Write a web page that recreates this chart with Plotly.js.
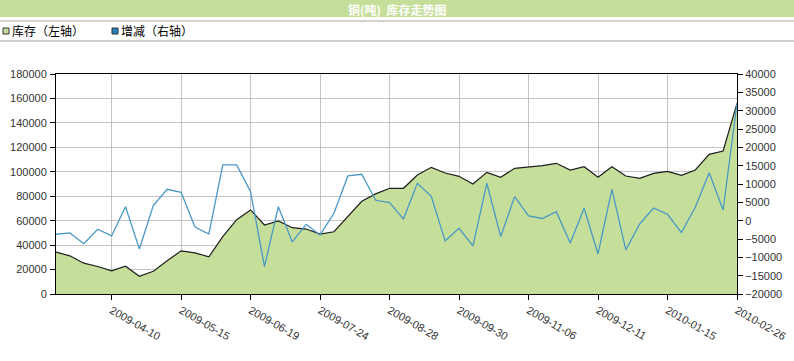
<!DOCTYPE html>
<html>
<head>
<meta charset="utf-8">
<script src="https://cdn.plot.ly/plotly-3.0.1.min.js"></script>
<style>html,body{margin:0;padding:0;background:#fff;}#chart{width:794px;height:361px;}</style>
</head>
<body>
<div id="chart"></div>
<script>
// ---- data ----
const chartTitle = "<b>铜(吨)  库存走势图</b>";
const seriesNames = ["库存（左轴）", "增减（右轴）"];
const dates = [
  "2009-03-13","2009-03-20","2009-03-27","2009-04-03","2009-04-10",
  "2009-04-17","2009-04-24","2009-04-30","2009-05-08","2009-05-15",
  "2009-05-22","2009-05-27","2009-06-05","2009-06-12","2009-06-19",
  "2009-06-26","2009-07-03","2009-07-10","2009-07-17","2009-07-24",
  "2009-07-31","2009-08-07","2009-08-14","2009-08-21","2009-08-28",
  "2009-09-04","2009-09-11","2009-09-18","2009-09-25","2009-09-30",
  "2009-10-09","2009-10-16","2009-10-23","2009-10-30","2009-11-06",
  "2009-11-13","2009-11-20","2009-11-27","2009-12-04","2009-12-11",
  "2009-12-18","2009-12-25","2009-12-31","2010-01-08","2010-01-15",
  "2010-01-22","2010-01-29","2010-02-05","2010-02-12","2010-02-26"
];
const stock = [
  34250,31230,25200,22470,18900,22740,14520,18630,27120,35340,33700,30400,
  47000,60820,68770,56440,59730,54250,53150,49040,50960,63840,75900,81900,
  86500,86500,97360,103650,99000,96300,90000,99520,95450,102830,103800,105000,
  106930,101450,104180,95450,104180,96550,94640,98730,100370,97090,101450,114280,117000,156000
];
const change = [
  -3700,-3350,-6270,-2350,-4170,3820,-7720,4090,8560,7740,-1720,-3630,
  15190,15190,7910,-12540,3820,-5810,-990,-3900,2010,12190,12650,5560,
  4910,460,10200,6650,-5500,-2080,-6900,10200,-4360,6550,1320,600,
  2460,-6100,3380,-9080,8560,-7990,-900,3460,1740,-3270,3650,13090,2920,32000
];
const tickDates = dates.filter((d, i) => i % 5 === 4);

// ---- geometry helpers (pixel -> paper) ----
const W = 794, H = 361, ML = 56, MR = 57, MT = 74, MB = 67;
const PW = W - ML - MR, PH = H - MT - MB;
const px = x => (x - ML) / PW;
const py = y => (H - MB - y) / PH;

const green = "#c5df9b";
const blue = "#4a98c6";
const tickFont = {family: "Arial, 'Liberation Sans', sans-serif", size: 11, color: "#333"};

const traces = [
  {
    x: dates, y: stock, name: seriesNames[0], type: "scatter", mode: "lines",
    fill: "tozeroy", fillcolor: green, line: {color: "#1e1e1e", width: 1.2},
    yaxis: "y", showlegend: false, hoverinfo: "x+y"
  },
  {
    x: dates, y: change, name: seriesNames[1], type: "scatter", mode: "lines",
    line: {color: blue, width: 1.3}, yaxis: "y2", showlegend: false, hoverinfo: "x+y"
  }
];

const layout = {
  width: W, height: H,
  margin: {l: ML, r: MR, t: MT, b: MB, pad: 0},
  paper_bgcolor: "#fff", plot_bgcolor: "#fff",
  showlegend: false,
  xaxis: {
    type: "category", categoryorder: "array", categoryarray: dates,
    range: [0, dates.length - 1],
    tickmode: "array", tickvals: tickDates, ticktext: tickDates,
    tickangle: 30, ticks: "outside", ticklen: 5, tickcolor: "#000",
    showgrid: true, gridcolor: "#c4c4c4", gridwidth: 1,
    showline: true, linecolor: "#000", linewidth: 1, mirror: true,
    tickfont: tickFont, zeroline: false, automargin: false
  },
  yaxis: {
    range: [0, 180000], dtick: 20000, tick0: 0, tickformat: "d",
    ticks: "outside", ticklen: 5, tickcolor: "#000",
    showgrid: true, gridcolor: "#c4c4c4", gridwidth: 1,
    showline: true, linecolor: "#000", linewidth: 1,
    zeroline: false, tickfont: tickFont, automargin: false, ticklabelstandoff: 1
  },
  yaxis2: {
    overlaying: "y", side: "right",
    range: [-20000, 40000], dtick: 5000, tick0: 0, tickformat: "d",
    ticks: "outside", ticklen: 5, tickcolor: "#000",
    showgrid: false, showline: true, linecolor: "#000", linewidth: 1,
    zeroline: false, tickfont: tickFont, automargin: false
  },
  shapes: [
    {type: "rect", xref: "paper", yref: "paper", x0: px(0), x1: px(W), y0: py(17), y1: py(0),
     fillcolor: green, line: {width: 0}, layer: "below"},
    {type: "line", xref: "paper", yref: "paper", x0: px(0), x1: px(W), y0: py(21), y1: py(21),
     line: {color: "#d2d2d2", width: 2}},
    {type: "line", xref: "paper", yref: "paper", x0: px(0), x1: px(W), y0: py(41), y1: py(41),
     line: {color: "#d2d2d2", width: 2}},
    {type: "rect", xref: "paper", yref: "paper", x0: px(3), x1: px(9), y0: py(34), y1: py(28),
     fillcolor: green, line: {color: "#333", width: 1}},
    {type: "rect", xref: "paper", yref: "paper", x0: px(112), x1: px(118), y0: py(34), y1: py(28),
     fillcolor: "#2a7fc0", line: {color: "#333", width: 1}}
  ],
  annotations: [
    {text: chartTitle, xref: "paper", yref: "paper", x: px(W / 2), y: py(9),
     xanchor: "center", yanchor: "middle", showarrow: false,
     font: {family: "'Noto Sans CJK SC', sans-serif", size: 12, color: "#fff"}},
    {text: seriesNames[0], xref: "paper", yref: "paper", x: px(10), y: py(31),
     xanchor: "left", yanchor: "middle", showarrow: false,
     font: {family: "'Noto Sans CJK SC', sans-serif", size: 12, color: "#000"}},
    {text: seriesNames[1], xref: "paper", yref: "paper", x: px(119), y: py(31),
     xanchor: "left", yanchor: "middle", showarrow: false,
     font: {family: "'Noto Sans CJK SC', sans-serif", size: 12, color: "#000"}}
  ]
};

Plotly.newPlot("chart", traces, layout, {displayModeBar: false, staticPlot: true});
</script>
</body>
</html>
